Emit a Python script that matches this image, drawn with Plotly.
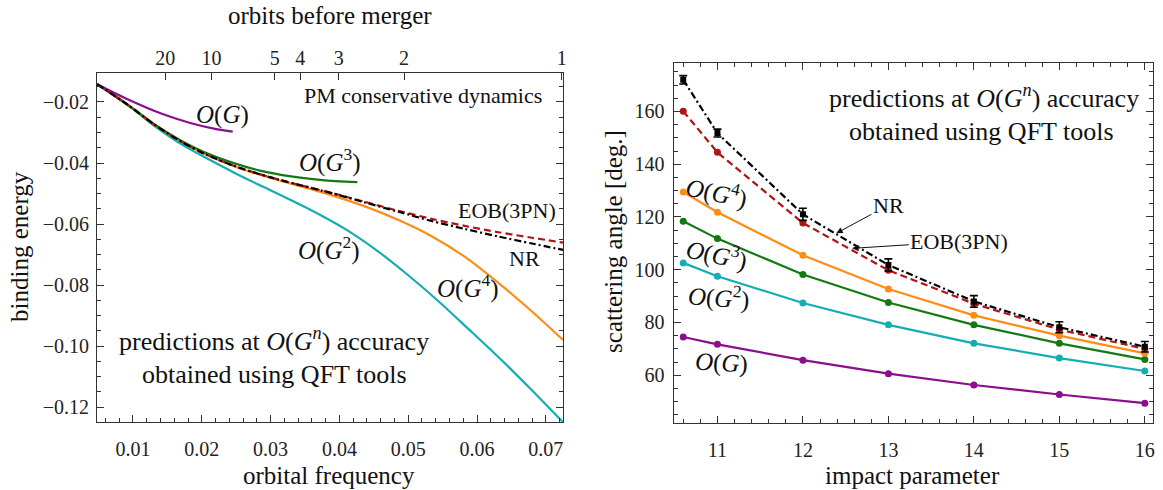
import plotly.graph_objects as go

# ---------------- Left panel data: binding energy vs orbital frequency ----------------
f_nr = [0.0048, 0.0093, 0.0131, 0.0170, 0.0204, 0.0250, 0.0300, 0.0340, 0.0392, 0.0438, 0.0486, 0.0534, 0.0582, 0.0631, 0.0680, 0.0725]
E_nr = [-0.0142, -0.0210, -0.0274, -0.0330, -0.0370, -0.0412, -0.0447, -0.0471, -0.0501, -0.0530, -0.0560, -0.0590, -0.0616, -0.0641, -0.0664, -0.0685]

f_eob = [0.0048, 0.0093, 0.0131, 0.0170, 0.0204, 0.0250, 0.0300, 0.0340, 0.0392, 0.0438, 0.0486, 0.0534, 0.0582, 0.0631, 0.0680, 0.0725]
E_eob = [-0.0142, -0.0210, -0.0274, -0.0330, -0.0370, -0.0412, -0.0447, -0.0471, -0.0500, -0.0528, -0.0557, -0.0583, -0.0606, -0.0627, -0.0645, -0.0661]

f_g4 = [0.0048, 0.0093, 0.0131, 0.0170, 0.0204, 0.0250, 0.0300, 0.0340, 0.0389, 0.0438, 0.0486, 0.0534, 0.0582, 0.0631, 0.0679, 0.0725]
E_g4 = [-0.0142, -0.0210, -0.0274, -0.0330, -0.0370, -0.0413, -0.0449, -0.0474, -0.0506, -0.0543, -0.0587, -0.0640, -0.0707, -0.0793, -0.0885, -0.0980]

f_g3 = [0.0048, 0.0093, 0.0131, 0.0170, 0.0204, 0.0250, 0.0286, 0.0327, 0.0375, 0.0426]
E_g3 = [-0.0142, -0.0210, -0.0273, -0.0327, -0.0365, -0.0403, -0.0426, -0.0443, -0.0456, -0.0463]

f_g2 = [0.0048, 0.0093, 0.0131, 0.0170, 0.0210, 0.0250, 0.0290, 0.0330, 0.0373, 0.0414, 0.0457, 0.0500, 0.0544, 0.0587, 0.0631, 0.0674, 0.0725]
E_g2 = [-0.0142, -0.0211, -0.0278, -0.0338, -0.0388, -0.0435, -0.0479, -0.0522, -0.0571, -0.0624, -0.0691, -0.0768, -0.0853, -0.0943, -0.1036, -0.1132, -0.1250]

f_g1 = [0.0048, 0.0093, 0.0141, 0.0182, 0.0221, 0.0245]
E_g1 = [-0.0142, -0.0192, -0.0238, -0.0268, -0.0289, -0.0297]

orbit_labels = ["20", "10", "5", "4", "3", "2", "1"]
orbit_freqs = [0.0147, 0.0214, 0.0306, 0.0343, 0.0399, 0.0494, 0.0723]

left_xrange = [0.0048, 0.0725]
left_yrange = [-0.1248, -0.0104]

# ---------------- Right panel data: scattering angle vs impact parameter ----------------
b = [10.6, 11, 12, 13, 14, 15, 16]
ang_nr = [172.0, 151.8, 121.0, 101.8, 88.0, 78.2, 70.8]
ang_nr_err = [1.6, 1.5, 2.3, 2.3, 2.2, 2.1, 2.0]
ang_eob = [160.1, 144.5, 117.7, 99.8, 87.1, 77.3, 70.0]
ang_g4 = [129.5, 121.8, 105.5, 92.7, 82.7, 75.0, 68.3]
ang_g3 = [118.4, 111.8, 98.2, 87.6, 79.1, 72.1, 66.0]
ang_g2 = [102.6, 97.5, 87.4, 79.1, 72.1, 66.5, 61.6]
ang_g1 = [74.5, 71.7, 65.7, 60.6, 56.3, 52.7, 49.4]

right_xrange = [10.488, 16.096]
right_yrange = [42.0, 178.5]

# ---------------- styles ----------------
PURPLE = "#8a0f8a"
CYAN = "#14adb3"
GREEN = "#137a13"
ORANGE = "#ff8c14"
RED = "#b01515"
BLACK = "#000000"
FONT = "Liberation Serif"
AXC = "#333333"

fig = go.Figure()

def lcurve(x, y, color, dash="solid", width=2.2):
    fig.add_trace(go.Scatter(x=x, y=y, mode="lines", xaxis="x", yaxis="y",
                             line=dict(color=color, width=width, dash=dash, shape="spline", smoothing=0.8),
                             showlegend=False, hoverinfo="skip"))

lcurve(f_g2, E_g2, CYAN)
lcurve(f_g4, E_g4, ORANGE)
lcurve(f_g3, E_g3, GREEN)
lcurve(f_g1, E_g1, PURPLE)
lcurve(f_eob, E_eob, RED, dash="7px,4px")
lcurve(f_nr, E_nr, BLACK, dash="7px,3px,2px,3px")

# invisible trace to activate top (orbits) axis
fig.add_trace(go.Scatter(x=left_xrange, y=left_yrange, mode="lines", xaxis="x3", yaxis="y",
                         line=dict(width=0, color="rgba(0,0,0,0)"), showlegend=False, hoverinfo="skip"))

def rcurve(y, color, dash="solid", err=None, symbol="circle", size=7):
    fig.add_trace(go.Scatter(x=b, y=y, mode="lines+markers", xaxis="x2", yaxis="y2",
                             line=dict(color=color, width=2.2, dash=dash),
                             marker=dict(color=color, size=size, symbol=symbol),
                             error_y=(dict(type="data", array=err, color=color, thickness=1.6, width=4)
                                      if err is not None else None),
                             showlegend=False, hoverinfo="skip"))

rcurve(ang_g1, PURPLE)
rcurve(ang_g2, CYAN)
rcurve(ang_g3, GREEN)
rcurve(ang_g4, ORANGE)
rcurve(ang_eob, RED, dash="7px,4px")
rcurve(ang_nr, BLACK, dash="7px,3px,2px,3px", err=ang_nr_err, symbol="square", size=6)

W, H = 1163, 490
def px(x):
    return x / W
def py(y):
    return 1 - y / H

tickfont = dict(family=FONT, size=20, color="#222")
common_axis = dict(showgrid=False, zeroline=False, showline=True, linecolor=AXC, linewidth=1.2,
                   ticks="inside", tickcolor=AXC, tickwidth=1, ticklen=7, tickfont=tickfont)

fig.update_layout(
    width=W, height=H, margin=dict(l=0, r=0, t=0, b=0),
    paper_bgcolor="white", plot_bgcolor="white",
    xaxis=dict(common_axis, domain=[px(97.5), px(565)], range=left_xrange, anchor="y",
               mirror=True, dtick=0.01, tick0=0, tickformat=".2f", ticklabelstandoff=9,
               minor=dict(ticks="inside", dtick=0.002, tick0=0, ticklen=4, tickcolor=AXC)),
    yaxis=dict(common_axis, domain=[py(421.7), py(72.7)], range=left_yrange, anchor="x",
               mirror="ticks", dtick=0.02, tick0=0, tickformat=".2f", ticklabelstandoff=3,
               minor=dict(ticks="inside", dtick=0.005, tick0=0, ticklen=4, tickcolor=AXC)),
    xaxis3=dict(showgrid=False, zeroline=False, showline=False, overlaying="x", anchor="y", side="top",
                range=left_xrange, tickmode="array", tickvals=orbit_freqs, ticktext=orbit_labels,
                ticks="inside", ticklen=7, tickcolor=AXC, tickfont=tickfont, ticklabelstandoff=3),
    xaxis2=dict(common_axis, domain=[px(676), px(1157)], range=right_xrange, anchor="y2",
                mirror="ticks", dtick=1, tick0=0, ticklabelstandoff=9,
                minor=dict(ticks="inside", dtick=0.2, tick0=0, ticklen=4, tickcolor=AXC)),
    yaxis2=dict(common_axis, domain=[py(422.7), py(62.7)], range=right_yrange, anchor="x2",
                mirror="ticks", dtick=20, tick0=0, ticklabelstandoff=4,
                minor=dict(ticks="inside", dtick=5, tick0=0, ticklen=4, tickcolor=AXC)),
)

def G(n=None):
    if n is None:
        return "<i>O</i>(<i>G</i>)"
    return "<i>O</i>(<i>G</i><sup>%s</sup>)" % n

annots = []
def ann(text, x, y, xref, yref, size=25, xanchor="center", angle=0):
    annots.append(dict(text=text, x=x, y=y, xref=xref, yref=yref, showarrow=False,
                       xanchor=xanchor, yanchor="middle", textangle=angle,
                       font=dict(family=FONT, size=size, color="#111")))

# left panel labels
ann("PM conservative dynamics", 0.0697, -0.0178, "x", "y", size=22, xanchor="right")
ann(G(), 0.0230, -0.0243, "x", "y")
ann(G(3), 0.0386, -0.0392, "x", "y")
ann("EOB(3PN)", 0.0643, -0.0556, "x", "y", size=22)
ann("NR", 0.0669, -0.0712, "x", "y", size=22)
ann(G(2), 0.0385, -0.0680, "x", "y")
ann(G(4), 0.0587, -0.0806, "x", "y")
ann("predictions at <i>O</i>(<i>G</i><sup><i>n</i></sup>) accuracy", 0.0305, -0.0978, "x", "y", size=26)
ann("obtained using QFT tools", 0.0305, -0.1094, "x", "y", size=26)

# right panel labels
ann("predictions at <i>O</i>(<i>G</i><sup><i>n</i></sup>) accuracy", 14.12, 165.6, "x2", "y2", size=26)
ann("obtained using QFT tools", 14.09, 152.3, "x2", "y2", size=26)
ann(G(4), 10.99, 129.6, "x2", "y2", angle=12)
ann(G(3), 10.99, 106.0, "x2", "y2", angle=12)
ann(G(2), 11.02, 89.8, "x2", "y2", angle=4)
ann(G(), 11.05, 64.5, "x2", "y2", angle=3)

# axis titles
ann("orbits before merger", px(331), py(16), "paper", "paper", size=25)
ann("orbital frequency", px(330), py(475), "paper", "paper", size=25)
ann("binding energy", px(19), py(246), "paper", "paper", size=25, angle=-90)
ann("impact parameter", px(916), py(475), "paper", "paper", size=25)
ann("scattering angle [deg.]", px(615), py(241), "paper", "paper", size=25, angle=-90)

# arrows in right panel
annots.append(dict(text="NR", x=12.39, y=113.8, ax=13.0, ay=124.5, xref="x2", yref="y2",
                   axref="x2", ayref="y2", showarrow=True, arrowhead=2, arrowsize=1.3, arrowwidth=1,
                   arrowcolor="#111", standoff=0, font=dict(family=FONT, size=22, color="#111")))
annots.append(dict(text="EOB(3PN)", x=12.575, y=108.1, ax=13.83, ay=110.7, xref="x2", yref="y2",
                   axref="x2", ayref="y2", showarrow=True, arrowhead=2, arrowsize=1.3, arrowwidth=1,
                   arrowcolor="#111", standoff=0, font=dict(family=FONT, size=22, color="#111")))

fig.update_layout(annotations=annots)
fig.write_html("out.html", config={"displayModeBar": False},
               post_script="document.body.style.margin='0px';")
